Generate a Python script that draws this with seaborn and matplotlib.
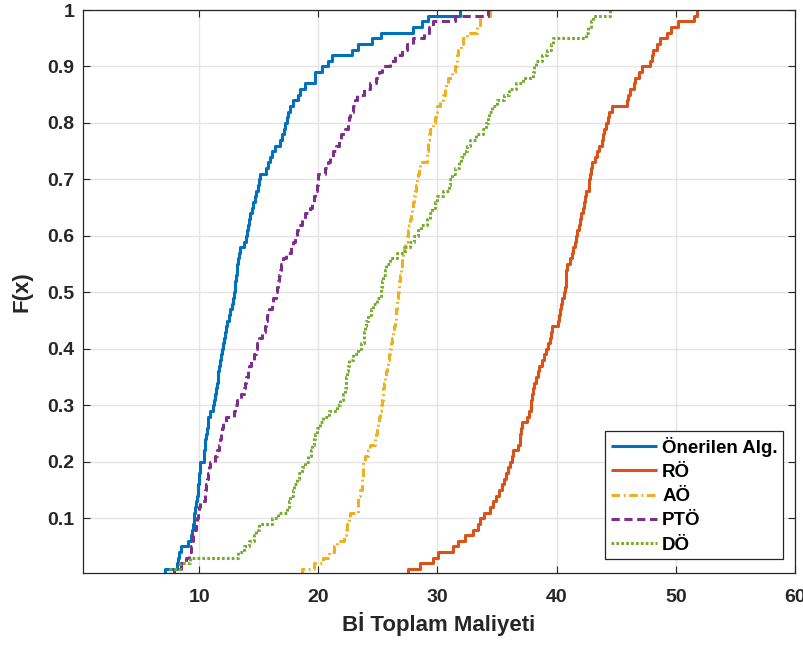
import numpy as np
import pandas as pd
import matplotlib
matplotlib.use("Agg")
import matplotlib.pyplot as plt
import seaborn as sns

# ---- data (sorted sample values) ----
series_names = ["Önerilen Alg.", "RÖ", "AÖ", "PTÖ", "DÖ"]

onerilen = [7.15, 8.13, 8.25, 8.35, 8.5, 9.1, 9.3, 9.4, 9.47, 9.53,
            9.6, 9.66, 9.73, 9.8, 9.87, 9.94, 9.97, 10.0, 10.04, 10.08,
            10.4, 10.44, 10.49, 10.53, 10.58, 10.64, 10.7, 10.78, 10.95, 11.15,
            11.25, 11.32, 11.4, 11.48, 11.55, 11.62, 11.7, 11.78, 11.86, 11.94,
            12.0, 12.07, 12.15, 12.25, 12.37, 12.48, 12.6, 12.72, 12.8, 12.9,
            13.0, 13.04, 13.08, 13.14, 13.2, 13.28, 13.36, 13.44, 13.8, 13.9,
            14.0, 14.1, 14.18, 14.3, 14.42, 14.55, 14.7, 14.8, 14.9, 15.0,
            15.12, 15.6, 15.75, 15.95, 16.15, 16.38, 16.8, 16.95, 17.1, 17.2,
            17.35, 17.49, 17.65, 17.91, 18.3, 18.47, 18.89, 19.7, 19.75, 20.3,
            20.8, 21.13, 22.8, 23.37, 24.5, 25.3, 27.98, 28.68, 29.24, 31.9]

ro = [27.56, 28.54, 29.66, 30.08, 31.3, 31.7, 32.32, 33.0, 33.4, 33.6,
      33.9, 34.41, 34.65, 34.9, 35.15, 35.45, 35.6, 35.75, 35.95, 36.1,
      36.25, 36.37, 36.79, 36.9, 36.95, 37.0, 37.07, 37.55, 37.72, 37.82,
      37.88, 37.95, 38.02, 38.1, 38.25, 38.4, 38.55, 38.75, 38.95, 39.1,
      39.3, 39.4, 39.5, 39.59, 40.1, 40.2, 40.3, 40.38, 40.43, 40.6,
      40.72, 40.75, 40.79, 40.82, 40.9, 41.1, 41.27, 41.35, 41.5, 41.6,
      41.72, 41.85, 41.96, 42.05, 42.18, 42.3, 42.4, 42.5, 42.68, 42.75,
      42.8, 42.87, 42.94, 43.2, 43.36, 43.55, 43.78, 43.9, 44.0, 44.1,
      44.28, 44.42, 44.62, 45.88, 46.0, 46.16, 46.45, 46.58, 46.9, 47.14,
      47.8, 48.0, 48.11, 48.4, 48.7, 49.23, 49.6, 50.2, 51.5, 51.75]

ao = [18.6, 19.6, 20.4, 20.9, 21.3, 21.6, 22.15, 22.3, 22.39, 22.55,
      22.67, 23.3, 23.33, 23.37, 23.5, 23.65, 23.68, 23.71, 23.74, 23.78,
      23.9, 24.15, 24.35, 24.77, 24.83, 24.9, 24.97, 25.05, 25.15, 25.3,
      25.38, 25.42, 25.46, 25.55, 25.62, 25.7, 25.75, 25.85, 25.95, 26.05,
      26.13, 26.22, 26.3, 26.37, 26.43, 26.48, 26.53, 26.58, 26.64, 26.7,
      26.74, 26.8, 26.87, 26.92, 27.0, 27.05, 27.12, 27.18, 27.25, 27.4,
      27.56, 27.6, 27.68, 27.75, 27.85, 27.95, 28.05, 28.12, 28.2, 28.3,
      28.38, 28.45, 28.54, 29.1, 29.15, 29.2, 29.24, 29.3, 29.4, 29.66,
      29.75, 29.9, 30.0, 30.22, 30.45, 30.64, 30.75, 30.9, 31.2, 31.48,
      31.6, 31.65, 31.76, 31.95, 32.1, 32.5, 33.3, 33.57, 33.6, 34.4]

pto = [7.85, 8.5, 8.9, 9.15, 9.3, 9.42, 9.5, 9.6, 9.7, 9.8,
       9.9, 9.98, 10.08, 10.45, 10.52, 10.58, 10.64, 10.7, 10.82, 10.95,
       11.35, 11.5, 11.65, 11.76, 11.85, 11.95, 12.04, 12.25, 12.9, 13.0,
       13.2, 13.5, 13.75, 13.85, 13.95, 14.07, 14.2, 14.35, 14.6, 14.75,
       14.86, 15.05, 15.26, 15.55, 15.62, 15.7, 15.9, 16.1, 16.23, 16.45,
       16.55, 16.62, 16.7, 16.78, 16.9, 17.05, 17.3, 17.7, 17.9, 18.05,
       18.2, 18.33, 18.6, 18.9, 19.3, 19.45, 19.6, 19.73, 19.85, 19.95,
       20.0, 20.6, 20.8, 21.0, 21.2, 21.5, 21.7, 21.9, 22.2, 22.45,
       22.55, 22.67, 22.9, 23.05, 23.23, 23.8, 24.3, 24.8, 25.05, 25.33,
       26.0, 26.4, 27.0, 27.4, 27.98, 28.9, 29.3, 29.66, 31.5, 34.27]

do = [7.57, 8.4, 9.24, 13.3, 13.8, 14.2, 14.56, 14.8, 15.05, 16.1,
      16.6, 17.4, 17.55, 17.65, 17.85, 18.0, 18.25, 18.4, 18.6, 18.85,
      19.1, 19.35, 19.45, 19.6, 19.73, 19.9, 20.1, 20.4, 20.9, 21.6,
      21.8, 22.05, 22.25, 22.3, 22.35, 22.42, 22.5, 22.6, 22.9, 23.37,
      23.6, 23.8, 23.85, 23.9, 24.0, 24.2, 24.4, 24.55, 24.9, 25.22,
      25.27, 25.33, 25.45, 25.6, 25.7, 26.0, 26.6, 27.3, 27.7, 28.0,
      28.35, 28.6, 29.1, 29.4, 29.56, 29.75, 30.0, 30.5, 30.95, 31.05,
      31.2, 31.5, 31.8, 32.0, 32.2, 32.45, 32.73, 33.2, 33.8, 34.1,
      34.2, 34.3, 34.6, 35.0, 35.6, 36.0, 36.6, 37.2, 38.0, 38.1,
      38.3, 38.8, 39.2, 39.5, 39.72, 42.5, 42.66, 42.9, 43.08, 44.48]

x_ticks = [10, 20, 30, 40, 50, 60]
y_ticks = [0.1, 0.2, 0.3, 0.4, 0.5, 0.6, 0.7, 0.8, 0.9, 1.0]
y_tick_labels = ["0.1", "0.2", "0.3", "0.4", "0.5", "0.6", "0.7", "0.8", "0.9", "1"]

colors = ["#0072BD", "#D95319", "#EDB120", "#7E2F8E", "#77AC30"]
values = [onerilen, ro, ao, pto, do]

# ---- styling ----
sns.set_style("ticks")
plt.rcParams["font.family"] = ["Liberation Sans", "DejaVu Sans"]
plt.rcParams["font.weight"] = "bold"

fig = plt.figure(figsize=(8.04, 6.46), dpi=100)
ax = fig.add_axes([0.1032, 0.113, 0.8856, 0.8715])

styles = [
    dict(linestyle="-"),
    dict(linestyle="-"),
    dict(dashes=(2.8, 1.2, 0.6, 1.2)),
    dict(dashes=(2.7, 1.5)),
    dict(dashes=(0.9, 0.7)),
]

for name, vals, col, st in zip(series_names, values, colors, styles):
    sns.ecdfplot(x=np.array(vals), ax=ax, color=col, lw=2.2, label=name,
                 solid_capstyle="butt", dash_capstyle="butt", **st)

ax.set_xlim(0.25, 60)
ax.set_ylim(0.003, 1.0)
ax.set_xticks(x_ticks)
ax.set_xticklabels([str(t) for t in x_ticks])
ax.set_yticks(y_ticks)
ax.set_yticklabels(y_tick_labels)

ax.grid(True, color="#e5e5e5", lw=1.0)
ax.set_axisbelow(True)
for s in ax.spines.values():
    s.set_visible(True)
    s.set_color("#262626")
    s.set_linewidth(0.9)

ax.tick_params(axis="both", direction="in", length=5, width=0.8,
               color="#262626", labelcolor="#262626", labelsize=14,
               top=True, right=True)
ax.tick_params(axis="x", pad=11.5)
ax.tick_params(axis="y", pad=6)
for lab in ax.get_xticklabels() + ax.get_yticklabels():
    lab.set_fontweight("bold")

ax.set_xlabel("Bİ Toplam Maliyeti", fontsize=16, fontweight="bold",
              color="#262626", labelpad=4.5)
ax.set_ylabel("F(x)", fontsize=16, fontweight="bold", color="#262626",
              labelpad=11)

leg = ax.legend(loc="lower right", bbox_to_anchor=(0.9836, 0.0243),
                borderaxespad=0, fontsize=13.5, frameon=True, fancybox=False,
                edgecolor="#262626", framealpha=1, handlelength=2.5,
                handletextpad=0.25, labelspacing=0.38, borderpad=0.3)
leg.get_frame().set_linewidth(0.9)
for t in leg.get_texts():
    t.set_fontweight("bold")
    t.set_color("black")

fig.savefig("out.png", dpi=100)
